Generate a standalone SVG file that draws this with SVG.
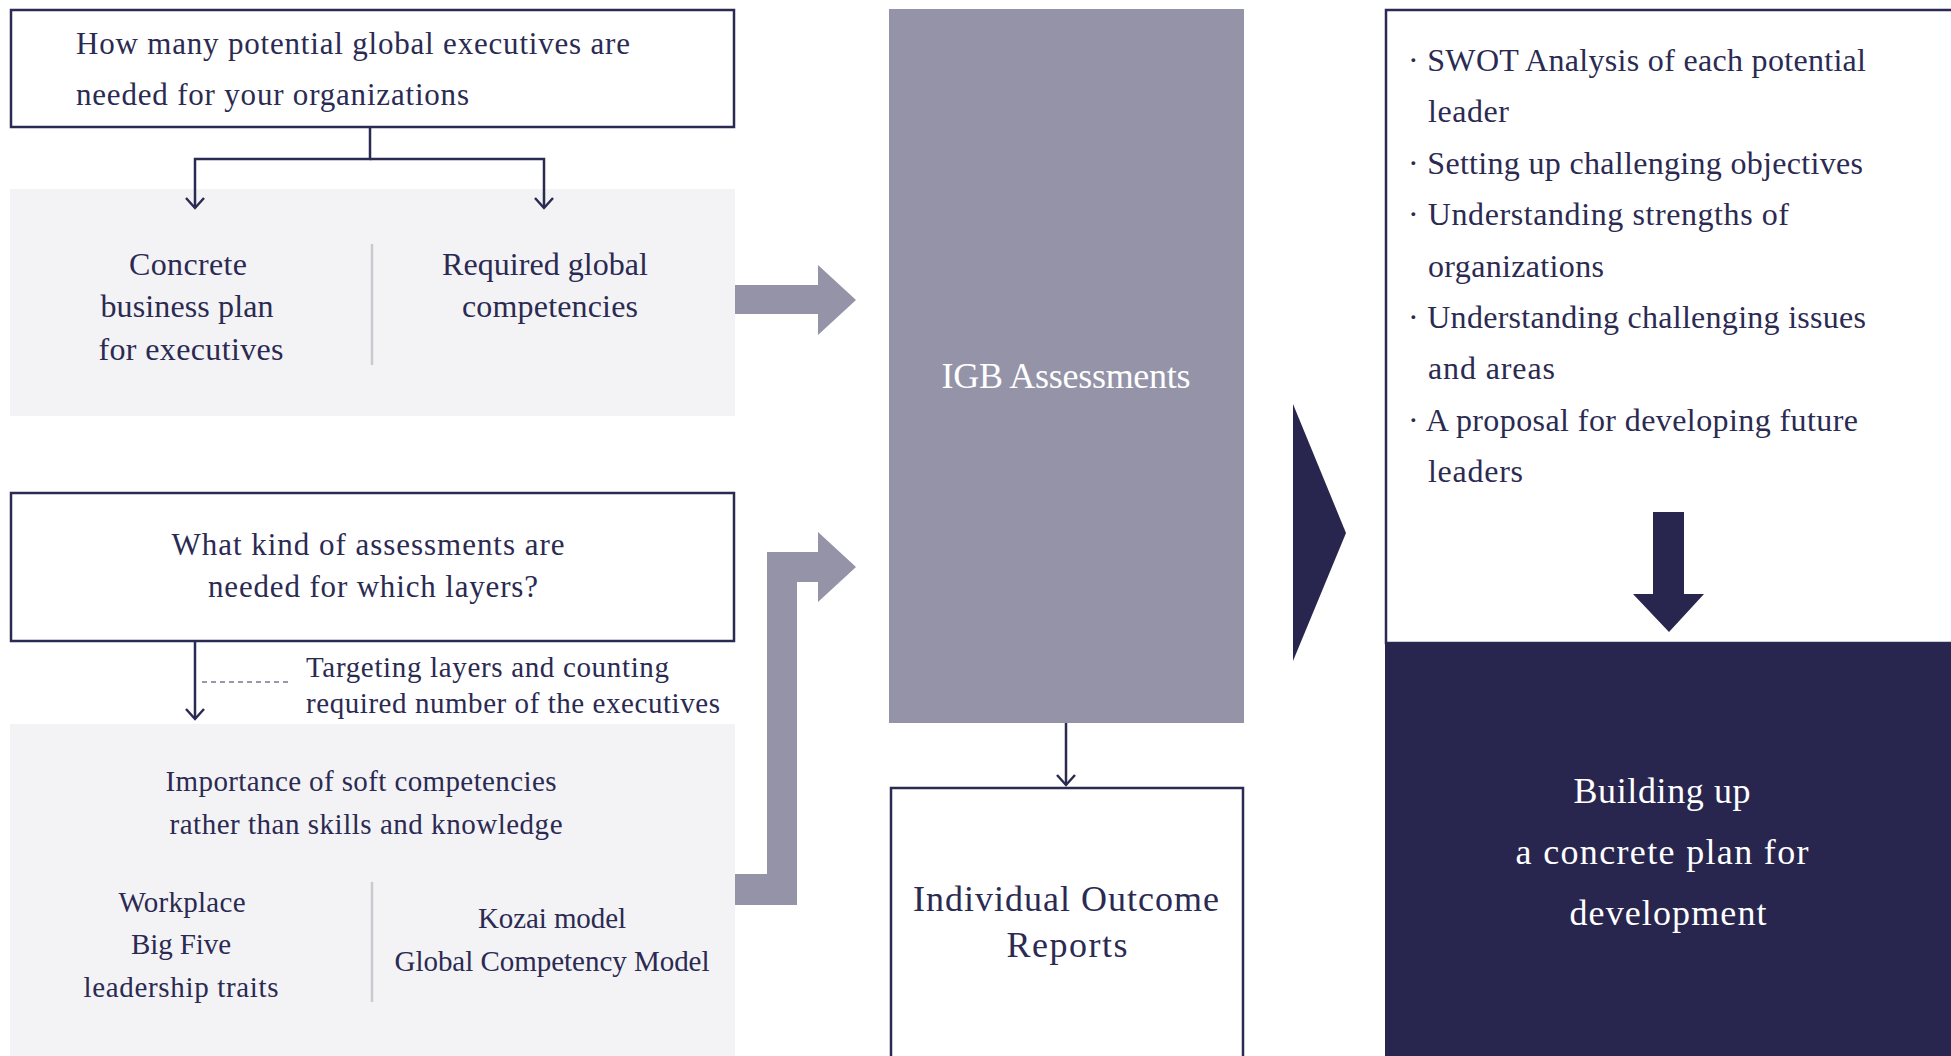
<svg xmlns="http://www.w3.org/2000/svg" width="1951" height="1056" viewBox="0 0 1951 1056">
<style>
  .t{font-family:'Liberation Serif', 'Times New Roman', serif;fill:#2b2a52;font-size:31px}
  .s29{font-size:29px}
  .s32{font-size:32px}
  .s36{font-size:36px}
  .w{fill:#ffffff}
  .c{text-anchor:middle}
  .frame{fill:#ffffff;stroke:#2b2a52;stroke-width:2.5}
  .panel{fill:#f3f3f5}
  .div{stroke:#c9c9d1;stroke-width:2.5}
  .conn{fill:none;stroke:#2b2a52;stroke-width:2.5}
  .dash{fill:none;stroke:#9a98ad;stroke-width:2;stroke-dasharray:5 4}
  .grey{fill:#9593a8}
  .navy{fill:#28264f}
</style>
<defs>
  <marker id="chev" viewBox="-13 -11 15 22" refX="0" refY="0" markerWidth="15" markerHeight="22" markerUnits="userSpaceOnUse" orient="auto">
    <path d="M-10,-9 L0,0 L-10,9" fill="none" stroke="#2b2a52" stroke-width="2.5"/>
  </marker>
</defs>

<g id="q1">
  <rect class="frame" x="11" y="10" width="723" height="117"/>
  <text class="t" x="76" y="54" textLength="554" lengthAdjust="spacing">How many potential global executives are</text>
  <text class="t" x="76" y="105" textLength="393" lengthAdjust="spacing">needed for your organizations</text>
</g>

<g id="panel1">
  <rect class="panel" x="10" y="189" width="725" height="227"/>
  <line class="div" x1="372" y1="244" x2="372" y2="365"/>
  <text class="t s32 c" x="188" y="275" textLength="118" lengthAdjust="spacing">Concrete</text>
  <text class="t s32 c" x="187" y="317" textLength="173" lengthAdjust="spacing">business plan</text>
  <text class="t s32 c" x="191" y="360" textLength="185" lengthAdjust="spacing">for executives</text>
  <text class="t s32 c" x="545" y="275" textLength="206" lengthAdjust="spacing">Required global</text>
  <text class="t s32 c" x="550" y="317" textLength="176" lengthAdjust="spacing">competencies</text>
</g>

<g id="q2">
  <rect class="frame" x="11" y="493" width="723" height="148"/>
  <text class="t c" x="368" y="555" textLength="393" lengthAdjust="spacing">What kind of assessments are</text>
  <text class="t c" x="373" y="597" textLength="330" lengthAdjust="spacing">needed for which layers?</text>
</g>

<g id="note">
  <text class="t s29" x="306" y="677" textLength="363" lengthAdjust="spacing">Targeting layers and counting</text>
  <text class="t s29" x="306" y="713" textLength="414" lengthAdjust="spacing">required number of the executives</text>
</g>

<g id="panel2">
  <rect class="panel" x="10" y="724" width="725" height="332"/>
  <line class="div" x1="372" y1="882" x2="372" y2="1002"/>
  <text class="t s29 c" x="361" y="791" textLength="391" lengthAdjust="spacing">Importance of soft competencies</text>
  <text class="t s29 c" x="366" y="834" textLength="393" lengthAdjust="spacing">rather than skills and knowledge</text>
  <text class="t s29 c" x="182" y="912" textLength="127" lengthAdjust="spacing">Workplace</text>
  <text class="t s29 c" x="181" y="954" textLength="100" lengthAdjust="spacing">Big Five</text>
  <text class="t s29 c" x="181" y="997" textLength="195" lengthAdjust="spacing">leadership traits</text>
  <text class="t s29 c" x="552" y="928" textLength="148" lengthAdjust="spacing">Kozai model</text>
  <text class="t s29 c" x="552" y="971" textLength="315" lengthAdjust="spacing">Global Competency Model</text>
</g>

<g id="igb">
  <rect class="grey" x="889" y="9" width="355" height="714"/>
  <text class="t s36 w c" x="1066" y="388" textLength="249" lengthAdjust="spacing">IGB Assessments</text>
</g>

<g id="reports">
  <rect class="frame" x="891" y="788" width="352" height="280"/>
  <text class="t s36 c" x="1066" y="911" textLength="306" lengthAdjust="spacing">Individual Outcome</text>
  <text class="t s36 c" x="1067" y="957" textLength="121" lengthAdjust="spacing">Reports</text>
</g>

<g id="results">
  <rect class="frame" x="1386" y="10" width="580" height="633"/>
  <text class="t s32" x="1408" y="71" textLength="458" lengthAdjust="spacing">· SWOT Analysis of each potential</text>
  <text class="t s32" x="1428" y="122" textLength="81" lengthAdjust="spacing">leader</text>
  <text class="t s32" x="1408" y="174" textLength="455" lengthAdjust="spacing">· Setting up challenging objectives</text>
  <text class="t s32" x="1408" y="225" textLength="381" lengthAdjust="spacing">· Understanding strengths of</text>
  <text class="t s32" x="1428" y="277" textLength="176" lengthAdjust="spacing">organizations</text>
  <text class="t s32" x="1408" y="328" textLength="458" lengthAdjust="spacing">· Understanding challenging issues</text>
  <text class="t s32" x="1428" y="379" textLength="127" lengthAdjust="spacing">and areas</text>
  <text class="t s32" x="1408" y="431" textLength="450" lengthAdjust="spacing">· A proposal for developing future</text>
  <text class="t s32" x="1428" y="482" textLength="95" lengthAdjust="spacing">leaders</text>
  <polygon class="navy" points="1653,512 1684,512 1684,594 1704,594 1669,632 1633,594 1653,594"/>
</g>

<g id="plan">
  <rect class="navy" x="1385" y="643" width="566" height="413"/>
  <text class="t s36 w c" x="1662" y="803" textLength="177" lengthAdjust="spacing">Building up</text>
  <text class="t s36 w c" x="1662" y="864" textLength="293" lengthAdjust="spacing">a concrete plan for</text>
  <text class="t s36 w c" x="1668" y="925" textLength="197" lengthAdjust="spacing">development</text>
</g>

<g id="connectors">
  <path class="conn" d="M370,127 V159 H195 V208" marker-end="url(#chev)"/>
  <path class="conn" d="M370,159 H544 V208" marker-end="url(#chev)"/>
  <path class="conn" d="M195,641 V719" marker-end="url(#chev)"/>
  <path class="dash" d="M202,682 H290"/>
  <path class="conn" d="M1066,723 V785" marker-end="url(#chev)"/>
  <polygon class="grey" points="735,285 818,285 818,265 856,300 818,335 818,314 735,314"/>
  <polygon class="grey" points="735,874 767,874 767,552 818,552 818,532 856,567 818,602 818,582 797,582 797,905 735,905"/>
  <polygon class="navy" points="1293,404 1346,533 1293,661"/>
</g>
</svg>
